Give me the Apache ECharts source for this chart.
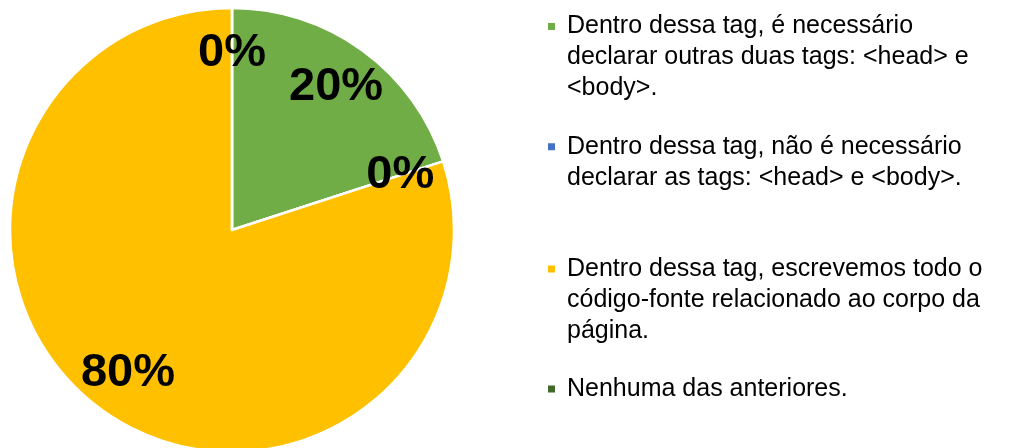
<!DOCTYPE html>
<html>
<head>
<meta charset="utf-8">
<script src="https://cdn.jsdelivr.net/npm/echarts@6/dist/echarts.min.js"></script>
<style>
html,body{margin:0;padding:0;background:#fff;}
#chart{width:1013px;height:448px;}
</style>
</head>
<body>
<div id="chart"></div>
<script>
const categories = [
  'Dentro dessa tag, é necessário declarar outras duas tags: <head> e <body>.',
  'Dentro dessa tag, não é necessário declarar as tags: <head> e <body>.',
  'Dentro dessa tag, escrevemos todo o código-fonte relacionado ao corpo da página.',
  'Nenhuma das anteriores.'
];
const values = [20, 0, 80, 0];
const colors = ['#70AD47', '#4472C4', '#FFC000', '#43682B'];

const chart = echarts.init(document.getElementById('chart'), null, {renderer: 'canvas'});

const pieData = categories.map((c, i) => ({name: c, value: values[i], itemStyle: {color: colors[i]}}));
const labelData = categories.map((c, i) => ({name: c, value: values[i]}));

// legend layout: [first-line centre, number of wrapped lines]
const legendSlots = [[26.5, 3], [146.7, 2], [269, 3], [389, 1]];
const LH = 31;
const legends = categories.map((c, i) => {
  const [cy, n] = legendSlots[i];
  const m = 2 * n - 1;
  return {
    data: [c],
    orient: 'vertical',
    left: 546,
    top: cy - m * LH / 2,
    padding: 0,
    itemWidth: 9,
    itemHeight: 9,
    icon: 'rect',
    selectedMode: false,
    formatter: (name) => '\n'.repeat(n - 1) + name,
    textStyle: {
      fontFamily: 'Liberation Sans, Arial, sans-serif',
      fontSize: 25,
      color: '#000',
      lineHeight: LH,
      width: 440,
      overflow: 'break',
      padding: [0, 0, 0, 6]
    }
  };
});

chart.setOption({
  animation: false,
  backgroundColor: '#fff',
  legend: legends,
  series: [
    {
      type: 'pie',
      center: [232, 230],
      radius: [0, 222],
      startAngle: 90,
      clockwise: true,
      data: pieData,
      label: {show: false},
      labelLine: {show: false},
      itemStyle: {borderColor: '#fff', borderWidth: 2.5},
      emphasis: {disabled: true},
      silent: true
    },
    {
      type: 'pie',
      center: [232, 230],
      radius: [126, 222],
      startAngle: 90,
      clockwise: true,
      data: labelData,
      itemStyle: {color: 'rgba(0,0,0,0)', borderWidth: 0},
      label: {
        show: true,
        position: 'inside',
        formatter: '{d}%',
        color: '#000',
        fontFamily: 'Liberation Sans, Arial, sans-serif',
        fontWeight: 'bold',
        fontSize: 47,
        textBorderWidth: 0
      },
      labelLine: {show: false},
      emphasis: {disabled: true},
      legendHoverLink: false,
      silent: true,
      z: 5
    }
  ]
});
</script>
</body>
</html>
